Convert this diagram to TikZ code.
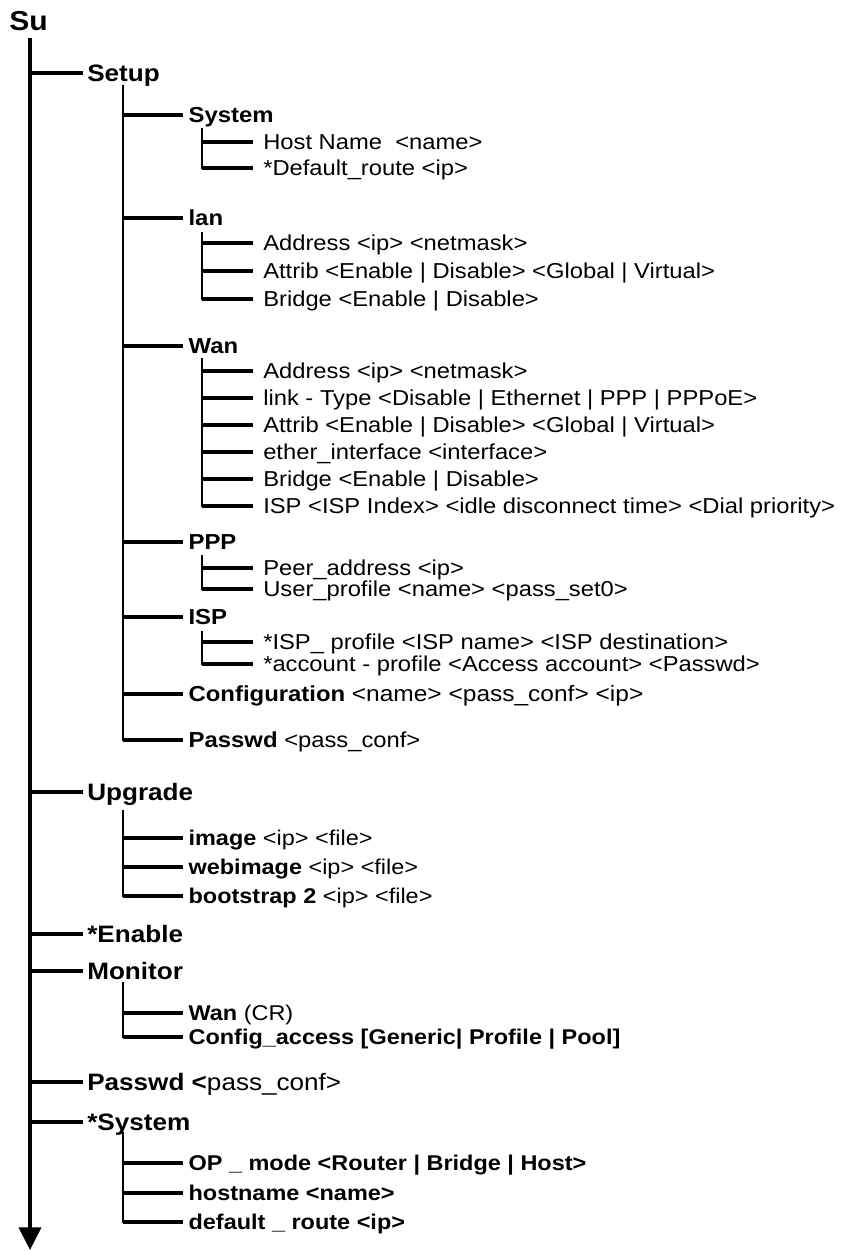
\documentclass[tikz,border=0pt]{standalone}
\usepackage{fontspec}
\setmainfont{Liberation Sans}[FakeStretch=1.1]
\usetikzlibrary{arrows.meta}
\tikzset{
	txt/.style={anchor=west, inner ysep=0pt, text depth=0pt},
	lvlone/.style={txt, inner xsep=3pt, text height=12.75pt, font=\fontsize{17.8}{20}\selectfont\bfseries},
	lvltwo/.style={txt, inner xsep=4pt, text height=11.7pt, font=\fontsize{16.3}{19}\selectfont\bfseries},
	leaf/.style={txt, inner xsep=7.5pt, text height=11.6pt, font=\fontsize{16.2}{19}\selectfont},
	subleaf/.style={txt, inner xsep=4pt, text height=11.45pt, font=\fontsize{16}{19}\selectfont},
	trunk/.style={line width=3pt},
	branch/.style={line width=3pt},
	spine/.style={line width=2.2pt, line cap=rect},
}
\begin{document}
\begin{tikzpicture}[x=0.75pt, y=-0.75pt, >={Triangle[length=17pt, width=16.5pt]}]
	\useasboundingbox (0,0) rectangle (843,1251);
	\def \xa{30}
	\def \xb{123}
	\def \xc{202}
	\node[txt, inner xsep=0pt, text height=14.7pt, font=\fontsize{20.5}{24}\selectfont\bfseries] (su) at (9,21) {Su};
	% --- first level
	\node[lvlone] (setup) at (83,73) {Setup};
	\node[lvlone] (upgrade) at (83,792) {Upgrade};
	\node[lvlone] (enable) at (83,934) {*Enable};
	\node[lvlone] (monitor) at (83,971) {Monitor};
	\node[lvlone] (passwd) at (83,1082) {Passwd <\mdseries pass\_conf>};
	\node[lvlone] (system) at (83,1122) {*System};
	\coordinate (top) at (\xa,38);
	\coordinate (bottom) at (\xa,1250);
	\draw[trunk,->] (top) -- (bottom);
	\foreach \n in {setup,upgrade,enable,monitor,passwd,system}
		\draw[branch] (top |- \n.west) -- (\n.west);
	% --- setup
	\node[lvltwo] (sys) at (183,115) {System};
	\node[lvltwo] (lan) at (183,218) {lan};
	\node[lvltwo] (wan) at (183,346) {Wan};
	\node[lvltwo] (ppp) at (183,542) {PPP};
	\node[lvltwo] (isp) at (183,617) {ISP};
	\node[lvltwo] (conf) at (183,694) {Configuration \mdseries\fontsize{16.7}{19}\selectfont <name> <pass\_conf> <ip>};
	\node[lvltwo] (spw) at (183,740) {Passwd \mdseries\fontsize{16.2}{19}\selectfont <pass\_conf>};
	\coordinate (setupT) at (\xb,86);
	\draw[spine, line width=1.7pt] (setupT) -- (setupT |- spw.west);
	\foreach \n in {sys,lan,wan,ppp,isp,conf,spw}
		\draw[branch] (setupT |- \n.west) -- (\n.west);
	% --- system
	\node[leaf] (sys1) at (253,142) {Host Name\ \ <name>};
	\node[leaf] (sys2) at (253,168) {*Default\_route <ip>};
	\coordinate (sysT) at (\xc,129);
	% --- lan
	\node[leaf] (lan1) at (253,243) {Address <ip> <netmask>};
	\node[leaf] (lan2) at (253,271) {Attrib <Enable | Disable> <Global | Virtual>};
	\node[leaf] (lan3) at (253,299) {Bridge <Enable | Disable>};
	\coordinate (lanT) at (\xc,233);
	% --- wan
	\node[leaf] (wan1) at (253,371) {Address <ip> <netmask>};
	\node[leaf] (wan2) at (253,398) {link - Type <Disable | Ethernet | PPP | PPPoE>};
	\node[leaf] (wan3) at (253,425) {Attrib <Enable | Disable> <Global | Virtual>};
	\node[leaf] (wan4) at (253,452) {ether\_interface <interface>};
	\node[leaf] (wan5) at (253,479) {Bridge <Enable | Disable>};
	\node[leaf] (wan6) at (253,506) {ISP <ISP Index> <idle disconnect time> <Dial priority>};
	\coordinate (wanT) at (\xc,359);
	% --- ppp and isp
	\node[leaf] (ppp1) at (253,568) {Peer\_address <ip>};
	\node[leaf] (ppp2) at (253,589) {User\_profile <name> <pass\_set0>};
	\coordinate (pppT) at (\xc,556);
	\node[leaf] (isp1) at (253,642) {*ISP\_ profile <ISP name> <ISP destination>};
	\node[leaf] (isp2) at (253,664) {*account - profile <Access account> <Passwd>};
	\coordinate (ispT) at (\xc,632);
	\draw[spine] (sysT) -- (sysT |- sys2.west);
	\draw[spine] (lanT) -- (lanT |- lan3.west);
	\draw[spine] (wanT) -- (wanT |- wan6.west);
	\draw[spine] (pppT) -- (pppT |- ppp2.west);
	\draw[spine] (ispT) -- (ispT |- isp2.west);
	\foreach \n in {sys1,sys2}
		\draw[branch] (sysT |- \n.west) -- (\n.west);
	\foreach \n in {lan1,lan2,lan3}
		\draw[branch] (lanT |- \n.west) -- (\n.west);
	\foreach \n in {wan1,wan2,wan3,wan4,wan5,wan6}
		\draw[branch, line width=3.5pt] (wanT |- \n.west) -- (\n.west);
	\foreach \n in {ppp1,ppp2}
		\draw[branch] (pppT |- \n.west) -- (\n.west);
	\foreach \n in {isp1,isp2}
		\draw[branch] (ispT |- \n.west) -- (\n.west);
	% --- upgrade
	\node[subleaf] (up1) at (183,838) {\textbf{image} <ip> <file>};
	\node[subleaf] (up2) at (183,867) {\textbf{webimage} <ip> <file>};
	\node[subleaf] (up3) at (183,896) {\textbf{bootstrap 2} <ip> <file>};
	\coordinate (upT) at (\xb,811);
	\draw[spine] (upT) -- (upT |- up3.west);
	\foreach \n in {up1,up2,up3}
		\draw[branch] (upT |- \n.west) -- (\n.west);
	% --- monitor
	\node[subleaf] (mon1) at (183,1013) {\textbf{Wan} (CR)};
	\node[subleaf] (mon2) at (183,1037) {\textbf{Config\_access [Generic| Profile | Pool]}};
	\coordinate (monT) at (\xb,983);
	\draw[spine] (monT) -- (monT |- mon2.west);
	\foreach \n in {mon1,mon2}
		\draw[branch] (monT |- \n.west) -- (\n.west);
	% --- system (second)
	\node[subleaf, font=\fontsize{16}{19}\selectfont\bfseries] (st1) at (183,1163) {OP \_ mode <Router | Bridge | Host>};
	\node[subleaf, font=\fontsize{16}{19}\selectfont\bfseries] (st2) at (183,1193) {hostname <name>};
	\node[subleaf, font=\fontsize{16}{19}\selectfont\bfseries] (st3) at (183,1222) {default \_ route <ip>};
	\coordinate (stT) at (\xb,1133);
	\draw[spine] (stT) -- (stT |- st3.west);
	\foreach \n in {st1,st2,st3}
		\draw[branch] (stT |- \n.west) -- (\n.west);
\end{tikzpicture}
\end{document}
